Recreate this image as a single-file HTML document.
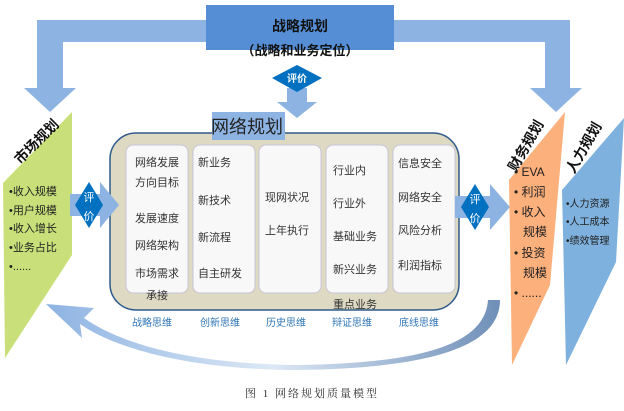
<!DOCTYPE html>
<html><head><meta charset="utf-8"><style>
body{margin:0;background:#fff;}
svg{display:block;font-family:"Liberation Sans","Noto Sans CJK SC",sans-serif;}
</style></head><body>
<svg width="624" height="411" viewBox="0 0 624 411" xmlns="http://www.w3.org/2000/svg">
<defs>
<linearGradient id="cg" x1="0" y1="0" x2="1" y2="0">
<stop offset="0" stop-color="#8db3e2"/><stop offset="0.5" stop-color="#dce8f5"/><stop offset="1" stop-color="#6f8fb8"/>
</linearGradient>
</defs>
<path d="M37,20 H570 V88 H582 L556,112 L530,88 H545 V42 H63 V88 H76 L50,112 L24,88 H37 Z" fill="#8db3e2"/>
<rect x="206" y="5" width="188" height="45" fill="#558ed5"/>
<text x="300" y="31" font-size="14" font-weight="bold" text-anchor="middle" fill="#111">战略规划</text>
<text x="300" y="55" font-size="13" font-weight="bold" text-anchor="middle" fill="#111">（战略和业务定位）</text>
<path d="M287,88 H307 V102 H317 L297,118 L277,102 H287 Z" fill="#8db3e2"/>
<polygon points="297,65 322,78 297,92 272,78" fill="#0070c0"/>
<text x="297" y="82" font-size="10" font-weight="bold" text-anchor="middle" fill="#fff">评价</text>
<rect x="110" y="133" width="349" height="177" rx="26" fill="#ddd9c3" stroke="#2e5a8a" stroke-width="1.5"/>
<rect x="212" y="112" width="73" height="28" fill="#8db3e2"/>
<text x="247" y="133" font-size="18" text-anchor="middle" fill="#222">网络规划</text>
<g fill="#f8f8f8" stroke="#c8c4d8">
<rect x="126" y="145" width="62" height="148" rx="7"/>
<rect x="193" y="145" width="62" height="148" rx="7"/>
<rect x="259" y="145" width="62" height="148" rx="7"/>
<rect x="326" y="145" width="62" height="148" rx="7"/>
<rect x="393" y="145" width="62" height="148" rx="7"/>
</g>
<g font-size="11" fill="#333">
<text x="135" y="166">网络发展</text><text x="135" y="186">方向目标</text><text x="135" y="222">发展速度</text><text x="135" y="249">网络架构</text><text x="135" y="277">市场需求</text><text x="146" y="299">承接</text>
<text x="198" y="166">新业务</text><text x="198" y="204">新技术</text><text x="198" y="241">新流程</text><text x="198" y="277">自主研发</text>
<text x="265" y="201">现网状况</text><text x="265" y="234">上年执行</text>
<text x="333" y="174">行业内</text><text x="333" y="207">行业外</text><text x="333" y="240">基础业务</text><text x="333" y="273">新兴业务</text><text x="333" y="308">重点业务</text>
<text x="398" y="167">信息安全</text><text x="398" y="201">网络安全</text><text x="398" y="234">风险分析</text><text x="398" y="269">利润指标</text>
</g>
<g font-size="10" fill="#2f75b5" text-anchor="middle">
<text x="152" y="326">战略思维</text><text x="220" y="326">创新思维</text><text x="286" y="326">历史思维</text><text x="352" y="326">辩证思维</text><text x="419" y="326">底线思维</text>
</g>
<polygon points="72,112 72,255 5,358 3,183" fill="#c9e07a"/>
<text transform="translate(40,145) rotate(-45)" font-size="14" font-weight="bold" text-anchor="middle" fill="#111">市场规划</text>
<g font-size="11" fill="#222">
<text x="9" y="195">•收入规模</text><text x="9" y="214">•用户规模</text><text x="9" y="232">•收入增长</text><text x="9" y="251">•业务占比</text><text x="9" y="270">•......</text>
</g>
<path d="M70,194 H100 V182 L119,205 L100,228 V216 H70 Z" fill="#8db3e2"/>
<polygon points="89,182 103,205 89,228 75,205" fill="#0070c0"/>
<text x="89" y="201" font-size="11" text-anchor="middle" fill="#fff">评</text>
<text x="89" y="220" font-size="11" text-anchor="middle" fill="#fff">价</text>
<path d="M455,196 H490 V184 L510,207 L490,230 V218 H455 Z" fill="#8db3e2"/>
<polygon points="475,184 489,207 475,230 461,207" fill="#0070c0"/>
<text x="475" y="203" font-size="11" text-anchor="middle" fill="#fff">评</text>
<text x="475" y="222" font-size="11" text-anchor="middle" fill="#fff">价</text>
<polygon points="565,112 550,285 512,365 509,180" fill="#fcb07c"/>
<polygon points="624,118 616,262 566,365 562,190" fill="#7eb1dd"/>
<text transform="translate(530,148) rotate(-60)" font-size="14" font-weight="bold" text-anchor="middle" fill="#111">财务规划</text>
<text transform="translate(588,150) rotate(-60)" font-size="14" font-weight="bold" text-anchor="middle" fill="#111">人力规划</text>
<g font-size="12" fill="#222">
<text x="514" y="176">•  EVA</text><text x="514" y="196">•  利润</text><text x="514" y="216">•  收入</text><text x="523" y="236">规模</text><text x="514" y="257">•  投资</text><text x="523" y="277">规模</text><text x="514" y="297">•  ......</text>
</g>
<g font-size="10" fill="#222">
<text x="566" y="207">•人力资源</text><text x="566" y="225">•人工成本</text><text x="566" y="244">•绩效管理</text>
</g>
<path d="M500,300 C500,350 420,368 300,370 C180,370 110,345 80,324 L82,338 L46,304 L94,308 L84,318 C115,340 180,364 300,365 C420,363 485,345 488,300 Z" fill="url(#cg)"/>
<text x="312" y="397" font-size="11" text-anchor="middle" fill="#333" font-family="Liberation Serif,Noto Serif CJK SC,serif" letter-spacing="2">图 1   网络规划质量模型</text>
</svg>
</body></html>
